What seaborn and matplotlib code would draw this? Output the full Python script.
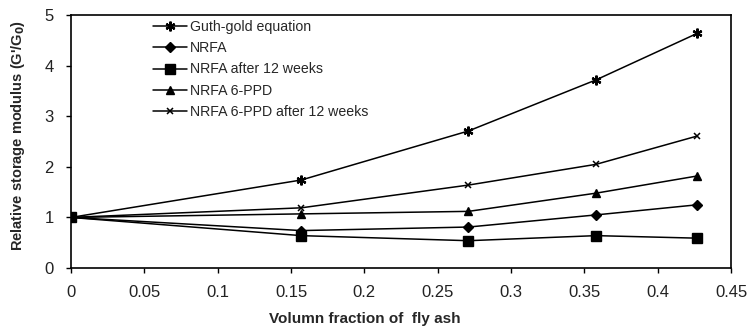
import pandas as pd
import matplotlib
matplotlib.use('Agg')
import matplotlib.pyplot as plt
import seaborn as sns

volume_fraction = [0, 0.157, 0.271, 0.358, 0.427]
guth_gold = [1, 1.74, 2.71, 3.72, 4.64]
nrfa = [1, 0.74, 0.81, 1.05, 1.25]
nrfa_12w = [1, 0.64, 0.54, 0.64, 0.59]
nrfa_ppd = [1, 1.07, 1.12, 1.48, 1.82]
nrfa_ppd_12w = [1, 1.19, 1.64, 2.05, 2.61]

series = {
    'Guth-gold equation': guth_gold,
    'NRFA': nrfa,
    'NRFA after 12 weeks': nrfa_12w,
    'NRFA 6-PPD': nrfa_ppd,
    'NRFA 6-PPD after 12 weeks': nrfa_ppd_12w,
}
markers = {
    'Guth-gold equation': (6, 2, 0),
    'NRFA': 'D',
    'NRFA after 12 weeks': 's',
    'NRFA 6-PPD': '^',
    'NRFA 6-PPD after 12 weeks': 'x',
}
sizes = {
    'Guth-gold equation': 7,
    'NRFA': 5.5,
    'NRFA after 12 weeks': 7,
    'NRFA 6-PPD': 6,
    'NRFA 6-PPD after 12 weeks': 4.5,
}
edge = {
    'Guth-gold equation': 1.6,
    'NRFA': 1,
    'NRFA after 12 weeks': 1,
    'NRFA 6-PPD': 1,
    'NRFA 6-PPD after 12 weeks': 1.1,
}

rows = []
for name, vals in series.items():
    for x, y in zip(volume_fraction, vals):
        rows.append({'x': x, 'y': y, 'series': name})
df = pd.DataFrame(rows)

sns.set_style('ticks')
plt.rcParams['font.family'] = ['Liberation Sans', 'DejaVu Sans']

fig = plt.figure(figsize=(7.49, 3.29), dpi=100)
ax = fig.add_axes([0.0948, 0.1854, 0.8812, 0.7686])

for name in series:
    sns.lineplot(data=df[df['series'] == name], x='x', y='y', ax=ax,
                 color='black', linewidth=1.1, marker=markers[name],
                 markersize=sizes[name], markeredgewidth=edge[name],
                 markeredgecolor='black', label=name)

ax.set_xlim(0, 0.45)
ax.set_ylim(0, 5)
ax.set_xticks([0, 0.05, 0.1, 0.15, 0.2, 0.25, 0.3, 0.35, 0.4, 0.45])
ax.set_xticklabels(['0', '0.05', '0.1', '0.15', '0.2', '0.25', '0.3', '0.35', '0.4', '0.45'])
ax.set_yticks([0, 1, 2, 3, 4, 5])
ax.tick_params(axis='both', labelsize=12, length=3.5, width=1, color='black',
               direction='out', labelcolor='#222222')
ax.tick_params(axis='x', pad=9)
ax.tick_params(axis='y', pad=9)

for sp in ax.spines.values():
    sp.set_visible(True)
    sp.set_color('black')
    sp.set_linewidth(1.2)

ax.set_xlabel('Volumn fraction of  fly ash', fontsize=11, fontweight='bold')
ax.set_ylabel("Relative storage modulus (G'/G$_\\mathbf{0}$)", fontsize=10.5, fontweight='bold')
ax.xaxis.set_label_coords(0.445, -0.175)
ax.yaxis.set_label_coords(-0.066, 0.526)

ax.legend(loc='upper left', bbox_to_anchor=(0.105, 1.03), frameon=False,
          fontsize=10.2, handlelength=2.4, labelspacing=0.5, handletextpad=0.2)

fig.savefig('out.png', dpi=100)
